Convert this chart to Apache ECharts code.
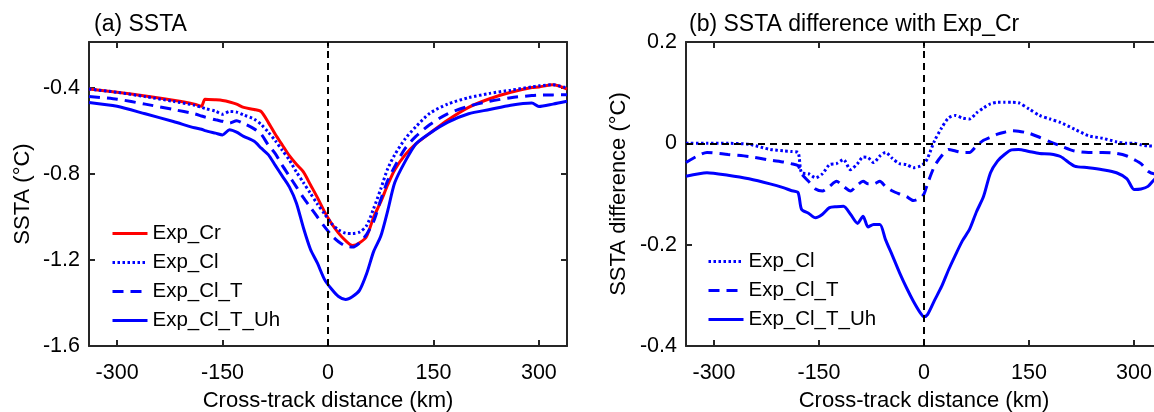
<!DOCTYPE html>
<html>
<head>
<meta charset="utf-8">
<script src="https://cdn.jsdelivr.net/npm/echarts@6/dist/echarts.min.js"></script>
<style>html,body{margin:0;padding:0;background:#fff}#c{width:1154px;height:412px}</style>
</head>
<body>
<div id="c"></div>
<script>
// ---------- data ----------
const kmA = [-340,-300,-260,-220,-190,-180,-175,-160,-150,-140,-130,-120,-105,-95,-85,-75,-65,-55,-45,-35,-25,-15,-5,5,15,25,35,45,55,65,75,85,95,110,125,145,170,200,230,260,290,300,320,340];
const sstaCr = [-0.405,-0.42,-0.437,-0.457,-0.475,-0.485,-0.452,-0.455,-0.458,-0.465,-0.475,-0.49,-0.50,-0.51,-0.56,-0.615,-0.665,-0.715,-0.755,-0.79,-0.85,-0.91,-0.975,-1.03,-1.075,-1.11,-1.133,-1.12,-1.09,-1.0,-0.93,-0.85,-0.78,-0.71,-0.66,-0.61,-0.55,-0.49,-0.45,-0.42,-0.398,-0.395,-0.385,-0.405];
const sstaCl = [-0.405,-0.42,-0.44,-0.462,-0.48,-0.49,-0.495,-0.508,-0.522,-0.509,-0.512,-0.525,-0.545,-0.57,-0.605,-0.645,-0.69,-0.735,-0.79,-0.84,-0.89,-0.94,-0.985,-1.03,-1.06,-1.075,-1.077,-1.07,-1.04,-0.96,-0.87,-0.775,-0.71,-0.635,-0.58,-0.517,-0.475,-0.445,-0.425,-0.41,-0.395,-0.39,-0.385,-0.40];
const sstaClT = [-0.439,-0.452,-0.475,-0.50,-0.52,-0.53,-0.535,-0.548,-0.555,-0.563,-0.552,-0.565,-0.59,-0.615,-0.665,-0.705,-0.76,-0.81,-0.86,-0.91,-0.955,-1.0,-1.045,-1.085,-1.115,-1.135,-1.14,-1.12,-1.08,-1.02,-0.92,-0.83,-0.765,-0.68,-0.625,-0.57,-0.52,-0.485,-0.462,-0.445,-0.435,-0.433,-0.432,-0.431];
const sstaClTUh = [-0.467,-0.485,-0.52,-0.556,-0.585,-0.592,-0.598,-0.61,-0.618,-0.594,-0.605,-0.625,-0.648,-0.68,-0.71,-0.76,-0.81,-0.86,-0.935,-1.05,-1.15,-1.215,-1.29,-1.335,-1.37,-1.384,-1.37,-1.34,-1.263,-1.16,-1.09,-0.97,-0.84,-0.74,-0.66,-0.61,-0.56,-0.52,-0.50,-0.48,-0.47,-0.486,-0.475,-0.462];

const kmB = [-340,-310,-280,-250,-220,-200,-190,-180,-175,-165,-155,-145,-135,-125,-115,-105,-95,-87,-80,-72,-63,-55,-45,-35,-25,-15,-5,0,5,15,25,35,45,55,65,75,85,95,105,115,125,135,150,165,180,195,215,235,255,275,290,300,310,320,330,340];
const diffCl = [0,0,0,-0.002,-0.012,-0.015,-0.016,-0.018,-0.058,-0.06,-0.068,-0.06,-0.042,-0.04,-0.032,-0.052,-0.04,-0.027,-0.028,-0.038,-0.025,-0.018,-0.03,-0.04,-0.042,-0.048,-0.045,-0.04,-0.03,0.005,0.03,0.05,0.055,0.05,0.048,0.06,0.07,0.078,0.081,0.081,0.081,0.08,0.068,0.055,0.048,0.041,0.028,0.015,0.01,0.003,0,0,-0.003,-0.005,-0.006,-0.01];
const diffClT = [-0.038,-0.018,-0.022,-0.026,-0.033,-0.037,-0.04,-0.044,-0.06,-0.075,-0.09,-0.094,-0.085,-0.075,-0.085,-0.094,-0.082,-0.075,-0.08,-0.08,-0.075,-0.085,-0.094,-0.1,-0.105,-0.113,-0.108,-0.1,-0.08,-0.045,-0.025,-0.012,-0.015,-0.018,-0.018,-0.005,0.006,0.012,0.018,0.022,0.025,0.024,0.02,0.012,0.003,-0.005,-0.015,-0.018,-0.018,-0.02,-0.025,-0.032,-0.04,-0.055,-0.06,-0.045];
const diffClTUh = [-0.065,-0.058,-0.063,-0.07,-0.08,-0.088,-0.093,-0.097,-0.13,-0.138,-0.147,-0.14,-0.127,-0.125,-0.124,-0.14,-0.158,-0.144,-0.165,-0.16,-0.16,-0.19,-0.222,-0.255,-0.285,-0.312,-0.335,-0.342,-0.338,-0.31,-0.283,-0.25,-0.22,-0.192,-0.17,-0.135,-0.105,-0.058,-0.035,-0.022,-0.013,-0.012,-0.016,-0.02,-0.021,-0.026,-0.045,-0.048,-0.052,-0.058,-0.07,-0.091,-0.09,-0.085,-0.07,-0.06];

const xTicks = [-300,-150,0,150,300];
const yTicksA = [-1.6,-1.2,-0.8,-0.4];
const yTicksB = [-0.4,-0.2,0,0.2];
const namesA = ['Exp_Cr','Exp_Cl','Exp_Cl_T','Exp_Cl_T_Uh'];
const namesB = ['Exp_Cl','Exp_Cl_T','Exp_Cl_T_Uh'];

// ---------- chart ----------
const FONT = '"Liberation Sans", Arial, sans-serif';
const AX = '#262626';
const RED = '#ff0000', BLUE = '#0000ff';
const DOT = [2.5, 2.5], DASH = [11, 7];
const TICKFS = 21.5, NAMEFS = 22, LEGFS = 20.5, TITLEFS = 23;

function zip(xs, ys){ return xs.map((x,i)=>[x, ys[i]]); }

function xAx(grid, pos){
  return {
    type:'value', gridIndex:grid, position:pos, min:-340, max:340,
    name: pos==='bottom' ? 'Cross-track distance (km)' : '',
    nameLocation:'middle', nameGap:44,
    nameTextStyle:{fontFamily:FONT, fontSize:NAMEFS, color:'#000'},
    axisLine:{show:true, onZero:false, lineStyle:{color:AX, width:2}},
    axisTick:{show:true, inside:true, length:6, customValues:xTicks, lineStyle:{color:AX, width:2}},
    axisLabel:{show: pos==='bottom', customValues:xTicks, margin:16, fontFamily:FONT, fontSize:TICKFS, color:'#000'},
    splitLine:{show:false}
  };
}
function yAx(grid, pos, mn, mx, ticks, name, gap){
  return {
    type:'value', gridIndex:grid, position:pos, min:mn, max:mx,
    name: pos==='left' ? name : '',
    nameLocation:'middle', nameGap:gap,
    nameTextStyle:{fontFamily:FONT, fontSize:NAMEFS, color:'#000'},
    axisLine:{show:true, onZero:false, lineStyle:{color:AX, width:2}},
    axisTick:{show:true, inside:true, length:6, customValues:ticks, lineStyle:{color:AX, width:2}},
    axisLabel:{show: pos==='left', customValues:ticks, margin:9, fontFamily:FONT, fontSize:TICKFS, color:'#000'},
    splitLine:{show:false}
  };
}
function line(name, xs, ys, color, type, xi, yi, extra){
  return Object.assign({
    name, type:'line', xAxisIndex:xi, yAxisIndex:yi,
    data: zip(xs, ys), showSymbol:false, symbol:'none', smooth:0.25,
    lineStyle:{color, width:3, type, cap:'butt'}, itemStyle:{color},
    emphasis:{disabled:true}, z:3
  }, extra||{});
}
const mlStyle = {silent:true, symbol:['none','none'], label:{show:false}, emphasis:{disabled:true},
  lineStyle:{color:'#000', type:[7,5], width:2}, animation:false};
const legBase = {orient:'vertical', itemWidth:35, itemHeight:14, itemGap:8, padding:0,
  itemStyle:{opacity:0, borderWidth:0},
  lineStyle:{width:3},
  textStyle:{fontFamily:FONT, fontSize:LEGFS, color:'#000', lineHeight:20}, selectedMode:false};

const option = {
  animation:false,
  backgroundColor:'#fff',
  textStyle:{fontFamily:FONT},
  title:[
    {text:'(a) SSTA', left:94, top:13, padding:0, textStyle:{fontFamily:FONT, fontSize:TITLEFS, fontWeight:'normal', color:'#000'}},
    {text:'(b) SSTA difference with Exp_Cr', left:689, top:13, padding:0, textStyle:{fontFamily:FONT, fontSize:TITLEFS, fontWeight:'normal', color:'#000'}}
  ],
  grid:[
    {left:89, top:42, width:478, height:304, outerBoundsMode:'none', containLabel:false},
    {left:686, top:42, width:476, height:304, outerBoundsMode:'none', containLabel:false}
  ],
  xAxis:[xAx(0,'bottom'), xAx(0,'top'), xAx(1,'bottom'), xAx(1,'top')],
  yAxis:[
    yAx(0,'left',-1.6,-0.186,yTicksA,'SSTA (°C)',55),
    yAx(0,'right',-1.6,-0.186,yTicksA,'',55),
    yAx(1,'left',-0.4,0.2,yTicksB,'SSTA difference (°C)',56),
    yAx(1,'right',-0.4,0.2,yTicksB,'',56)
  ],
  legend:[
    Object.assign({data:namesA, left:111, top:223}, legBase),
    Object.assign({data:namesB, left:707, top:251}, legBase)
  ],
  series:[
    line(namesA[0], kmA, sstaCr, RED, 'solid', 0, 0, {markLine:Object.assign({data:[{xAxis:0}]}, mlStyle)}),
    line(namesA[1], kmA, sstaCl, BLUE, DOT, 0, 0),
    line(namesA[2], kmA, sstaClT, BLUE, DASH, 0, 0),
    line(namesA[3], kmA, sstaClTUh, BLUE, 'solid', 0, 0),
    line(namesB[0], kmB, diffCl, BLUE, DOT, 2, 2, {markLine:Object.assign({data:[{xAxis:0},{yAxis:0}]}, mlStyle)}),
    line(namesB[1], kmB, diffClT, BLUE, DASH, 2, 2),
    line(namesB[2], kmB, diffClTUh, BLUE, 'solid', 2, 2)
  ]
};
const chart = echarts.init(document.getElementById('c'), null, {renderer:'canvas'});
chart.setOption(option);
</script>
</body>
</html>
